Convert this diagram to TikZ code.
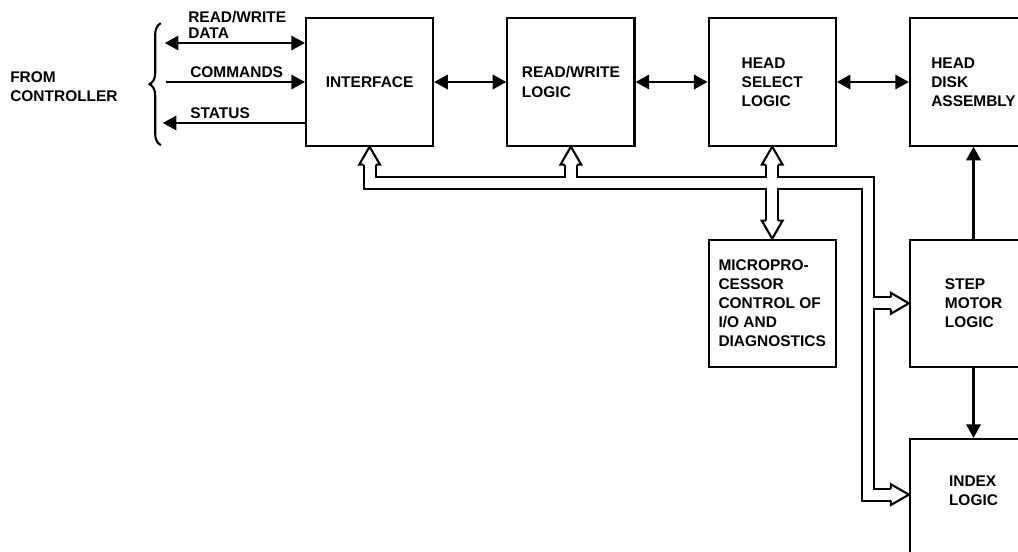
\documentclass[tikz,border=0pt]{standalone}
\usepackage{fontspec}
\setmainfont{Liberation Sans}
\usetikzlibrary{arrows.meta, positioning, decorations.pathreplacing}

\begin{document}
\begin{tikzpicture}[
    node distance=2.3cm and 1.8cm,
    every node/.style={font=\fontsize{11}{13.6}\selectfont\bfseries},
    box/.style={draw, line width=1.5pt, align=left, inner sep=0pt, minimum width=3.18cm, minimum height=3.18cm},
    sig/.style={align=left, inner sep=0pt, anchor=west},
    arrow/.style={-{Triangle[length=3.4mm, width=3.6mm]}, line width=1.5pt},
    dblarrow/.style={{Triangle[length=3.4mm, width=3.6mm]}-{Triangle[length=3.4mm, width=3.6mm]}, line width=1.5pt},
    bus outer/.style={line width=0.353cm, line join=miter},
    bus inner/.style={white, line width=0.247cm, line join=miter},
    bushead/.pic={\filldraw[fill=white, line width=1.5pt, line join=miter] (-0.15,-0.45) -- (-0.26,-0.45) -- (0,0) -- (0.26,-0.45) -- (0.15,-0.45);}
]
    \useasboundingbox (0,0) rectangle (25.45,-13.8);
    \clip (0,0) rectangle (25.45,-13.8);

    \node[box] (iface) at (9.24,-2.05) {INTERFACE};
    \node[box, right=of iface] (rw) {READ/WRITE\\LOGIC};
    \node[box, right=of rw] (hs) {HEAD\\SELECT\\LOGIC};
    \node[box, right=of hs] (hda) {HEAD\\DISK\\ASSEMBLY};
    \node[box, below=of hs] (micro) {MICROPRO-\\CESSOR\\CONTROL OF\\I/O AND\\DIAGNOSTICS};
    \node[box, below=of hda] (step) {STEP\\MOTOR\\LOGIC};
    \node[box, below=1.75cm of step, label={[align=left, yshift=0.3cm]center:INDEX\\LOGIC}] (index) {};

    \node[sig] (ctrl) at (0.25,-2.16) {FROM\\CONTROLLER};
    \node[sig] (rwlbl) at (4.7,-0.63) {READ/WRITE\\[-2.4pt]DATA};
    \node[sig] (cmdlbl) at (4.75,-1.8) {COMMANDS};
    \node[sig] (statlbl) at (4.75,-2.83) {STATUS};

    \draw[line width=1.5pt, decorate, decoration={brace, amplitude=0.28cm}] (4.02,-3.63) -- (4.02,-0.58);

    \coordinate (rwdata) at (4.12,-1.075);
    \coordinate (cmds) at (4.15,-2.05);
    \coordinate (stat) at (4.07,-3.075);
    \draw[dblarrow] (rwdata) -- (rwdata -| iface.west);
    \draw[arrow] (cmds) -- (cmds -| iface.west);
    \draw[arrow] (stat -| iface.west) -- (stat);

    \draw[dblarrow] (iface) -- (rw);
    \draw[dblarrow] (rw) -- (hs);
    \draw[dblarrow] (hs) -- (hda);
    \draw[arrow] (step) -- (hda);
    \draw[arrow] (step) -- (index);

    \coordinate[yshift=-0.9cm] (busL) at (iface.south);
    \coordinate[xshift=-1.03cm] (busR) at (busL -| step.west);
    \coordinate[yshift=-0.45cm] (ifbase) at (iface.south);
    \coordinate[yshift=-0.45cm] (rwbase) at (rw.south);
    \coordinate[yshift=-0.45cm] (hsbase) at (hs.south);
    \coordinate[yshift=0.45cm] (mpbase) at (micro.north);
    \coordinate[xshift=-0.45cm] (stbase) at (step.west);
    \coordinate[yshift=0.2cm] (idxin) at (index.west);
    \coordinate[xshift=-0.45cm] (idxbase) at (idxin);

    \foreach \bus in {bus outer, bus inner} {
        \draw[\bus] (ifbase) -- (busL) -- (busR) -- (busR |- idxbase) -- (idxbase);
        \draw[\bus] (rwbase) -- (rwbase |- busL);
        \draw[\bus] (hsbase) -- (mpbase);
        \draw[\bus] (busR |- stbase) -- (stbase);
    }

    \pic at (iface.south) {bushead};
    \pic at (rw.south) {bushead};
    \pic at (hs.south) {bushead};
    \pic[rotate=180] at (micro.north) {bushead};
    \pic[rotate=-90] at (step.west) {bushead};
    \pic[rotate=-90] at (idxin) {bushead};
\end{tikzpicture}
\end{document}
